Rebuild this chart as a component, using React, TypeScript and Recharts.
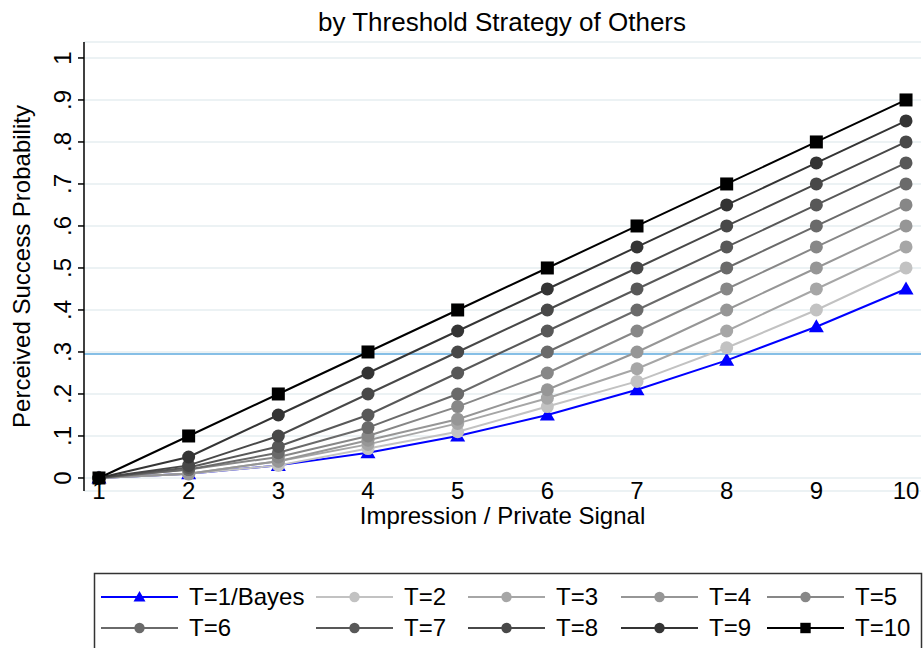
import { LineChart, Line, XAxis, YAxis, CartesianGrid, ReferenceLine } from 'recharts'

// impression / private signal on the x axis
const signals = [1, 2, 3, 4, 5, 6, 7, 8, 9, 10]

// perceived success probability, one list per threshold strategy
const bayes = [0, 0.01, 0.03, 0.06, 0.10, 0.15, 0.21, 0.28, 0.36, 0.45]
const t2 = [0, 0.01, 0.03, 0.07, 0.11, 0.17, 0.23, 0.31, 0.40, 0.50]
const t3 = [0, 0.01, 0.04, 0.08, 0.13, 0.19, 0.26, 0.35, 0.45, 0.55]
const t4 = [0, 0.01, 0.04, 0.09, 0.14, 0.21, 0.30, 0.40, 0.50, 0.60]
const t5 = [0, 0.02, 0.05, 0.10, 0.17, 0.25, 0.35, 0.45, 0.55, 0.65]
const t6 = [0, 0.02, 0.06, 0.12, 0.20, 0.30, 0.40, 0.50, 0.60, 0.70]
const t7 = [0, 0.025, 0.075, 0.15, 0.25, 0.35, 0.45, 0.55, 0.65, 0.75]
const t8 = [0, 0.03, 0.10, 0.20, 0.30, 0.40, 0.50, 0.60, 0.70, 0.80]
const t9 = [0, 0.05, 0.15, 0.25, 0.35, 0.45, 0.55, 0.65, 0.75, 0.85]
const t10 = [0, 0.10, 0.20, 0.30, 0.40, 0.50, 0.60, 0.70, 0.80, 0.90]

const cutoff = 0.295
const yTicks = [0, 0.1, 0.2, 0.3, 0.4, 0.5, 0.6, 0.7, 0.8, 0.9, 1]

const FONT = '"Liberation Sans", Arial, Helvetica, sans-serif'

type Mark = 'triangle' | 'circle' | 'square'

const SERIES: { key: string; name: string; values: number[]; color: string; mark: Mark }[] = [
  { key: 't1', name: 'T=1/Bayes', values: bayes, color: '#0000ff', mark: 'triangle' },
  { key: 't2', name: 'T=2', values: t2, color: '#c2c2c2', mark: 'circle' },
  { key: 't3', name: 'T=3', values: t3, color: '#a6a6a6', mark: 'circle' },
  { key: 't4', name: 'T=4', values: t4, color: '#969696', mark: 'circle' },
  { key: 't5', name: 'T=5', values: t5, color: '#878787', mark: 'circle' },
  { key: 't6', name: 'T=6', values: t6, color: '#6a6a6a', mark: 'circle' },
  { key: 't7', name: 'T=7', values: t7, color: '#585858', mark: 'circle' },
  { key: 't8', name: 'T=8', values: t8, color: '#484848', mark: 'circle' },
  { key: 't9', name: 'T=9', values: t9, color: '#343434', mark: 'circle' },
  { key: 't10', name: 'T=10', values: t10, color: '#000000', mark: 'square' },
]

const data = signals.map((s, i) => {
  const row: Record<string, number> = { s }
  SERIES.forEach((d) => { row[d.key] = d.values[i] })
  return row
})

function marker(mark: Mark, cx: number, cy: number, color: string, k: number, key?: any) {
  if (mark === 'triangle') {
    const h = 7.5 * k
    return <polygon key={key} points={`${cx},${cy - h} ${cx - h},${cy + 5.5 * k} ${cx + h},${cy + 5.5 * k}`} fill={color} />
  }
  if (mark === 'square') {
    const h = 6.5 * k
    return <rect key={key} x={cx - h} y={cy - h} width={2 * h} height={2 * h} fill={color} />
  }
  return <circle key={key} cx={cx} cy={cy} r={6.5 * k} fill={color} />
}

const fmtY = (v: number) => (v === 0 ? '0' : v === 1 ? '1' : '.' + Math.round(v * 10))

const YTick = (props: any) => {
  const { y, payload } = props
  return (
    <text x={63} y={y} transform={`rotate(-90 63 ${y})`} textAnchor="middle" dy="0.35em"
      fontSize={24} fontFamily={FONT} fill="#000">{fmtY(payload.value)}</text>
  )
}

const XTick = (props: any) => {
  const { x, y, payload } = props
  return (
    <text x={x} y={y} textAnchor="middle" dy="0.35em" fontSize={24} fontFamily={FONT} fill="#000">
      {payload.value}
    </text>
  )
}

const yTitle = (props: any) => {
  const vb = props.viewBox
  const cy = vb.y + vb.height / 2
  return (
    <text x={22} y={cy} transform={`rotate(-90 22 ${cy})`} textAnchor="middle" dy="0.35em"
      fontSize={24} fontFamily={FONT} fill="#000">Perceived Success Probability</text>
  )
}

const xTitle = (props: any) => {
  const vb = props.viewBox
  return (
    <text x={vb.x + vb.width / 2} y={vb.y + 25} textAnchor="middle" dy="0.35em"
      fontSize={24} fontFamily={FONT} fill="#000">Impression / Private Signal</text>
  )
}

// legend grid (5 columns x 2 rows), Stata style
const legendRows = [597, 628]
const legendCols = [101, 316, 468, 621, 767]

export default function App() {
  return (
    <div style={{ position: 'absolute', left: 0, top: 0, width: 924, height: 648, overflow: 'hidden', background: '#fff' }}>
      <LineChart width={924} height={648} data={data} margin={{ top: 42, right: 3, bottom: 127, left: 0 }}>
        <CartesianGrid vertical={false} stroke="#e6eef1" strokeWidth={1.5} />
        <XAxis dataKey="s" type="number" domain={[0.833, 10.167]} ticks={signals} allowDataOverflow
          axisLine={false} tickLine={false} tickSize={0} tickMargin={0} height={30}
          tick={<XTick />} interval={0} label={xTitle} />
        <YAxis type="number" domain={[-0.031, 1.038]} ticks={yTicks} allowDataOverflow width={84}
          axisLine={{ stroke: '#000', strokeWidth: 1.5 }} tickLine={{ stroke: '#000', strokeWidth: 1.5 }}
          tickSize={6} tick={<YTick />} interval={0} label={yTitle} />
        <ReferenceLine y={cutoff} stroke="#86bfe6" strokeWidth={2} />
        {SERIES.map((d) => (
          <Line key={d.key} dataKey={d.key} name={d.name} type="linear" stroke={d.color} strokeWidth={2}
            isAnimationActive={false}
            dot={(p: any) => marker(d.mark, p.cx, p.cy, d.color, 1, p.index)}
            activeDot={false} />
        ))}
      </LineChart>
      <svg width={924} height={648} style={{ position: 'absolute', left: 0, top: 0, pointerEvents: 'none' }}>
        <text x={502} y={22} textAnchor="middle" dy="0.35em" fontSize={26} fontFamily={FONT} fill="#000">
          by Threshold Strategy of Others
        </text>
        <rect x={94.5} y={573.5} width={827} height={100} fill="#fff" stroke="#333" strokeWidth={1.5} />
        {SERIES.map((d, i) => {
          const cy = legendRows[Math.floor(i / 5)]
          const x0 = legendCols[i % 5]
          return (
            <g key={d.key}>
              <line x1={x0} x2={x0 + 77} y1={cy} y2={cy} stroke={d.color} strokeWidth={2} />
              {marker(d.mark, x0 + 38.5, cy, d.color, 0.8)}
              <text x={x0 + 88} y={cy} dy="0.35em" fontSize={24} fontFamily={FONT} fill="#000">{d.name}</text>
            </g>
          )
        })}
      </svg>
    </div>
  )
}
